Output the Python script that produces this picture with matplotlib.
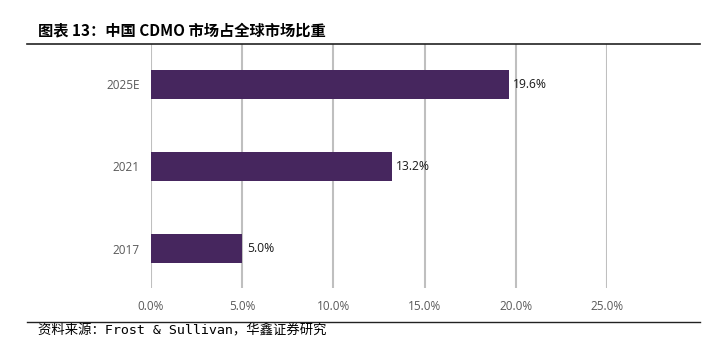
import matplotlib
matplotlib.use('Agg')
import matplotlib.pyplot as plt
from matplotlib.lines import Line2D

categories = ['2017', '2021', '2025E']
share = [5.0, 13.2, 19.6]
x_ticks = [0, 5, 10, 15, 20, 25]

title = '图表 13：中国 CDMO 市场占全球市场比重'
source = '资料来源：Frost & Sullivan，华鑫证券研究'

bar_color = '#46265e'
grid_color = '#bfbfbf'

fig = plt.figure(figsize=(7.05, 3.42), dpi=100)
ax = fig.add_axes([151 / 705, 1 - 288 / 342, (607 - 151) / 705, (288 - 44) / 342])

ax.barh(range(len(categories)), share, height=0.355, color=bar_color, zorder=3)
for i, v in enumerate(share):
    ax.text(v + 0.25, i, f'{v:.1f}%', va='center', ha='left', fontsize=8.7,
            family='Open Sans', color='#1a1a1a')

ax.set_xlim(0, 25)
ax.set_ylim(-0.48, 2.49)
ax.set_xticks(x_ticks)
ax.set_xticklabels([f'{t:.1f}%' for t in x_ticks], family='Open Sans', fontsize=8.5, color='#595959')
ax.set_yticks(range(len(categories)))
ax.set_yticklabels(categories, family='Open Sans', fontsize=8.5, color='#595959')
ax.tick_params(axis='both', length=0)
ax.tick_params(axis='x', pad=9)
ax.tick_params(axis='y', pad=8)
ax.grid(axis='x', color=grid_color, linewidth=1.5, zorder=0)
for s in ax.spines.values():
    s.set_visible(False)

# header / footer rules
fig.add_artist(Line2D([27 / 705, 700 / 705], [1 - 44 / 342] * 2, color='#222222', linewidth=1.2))
fig.add_artist(Line2D([27 / 705, 700 / 705], [1 - 322 / 342] * 2, color='#222222', linewidth=1.0))

fig.text(38 / 705, 1 - 30 / 342, title, fontsize=11, fontweight='bold',
         family=['Noto Sans CJK SC', 'DejaVu Sans'], va='center', ha='left')
fig.text(38 / 705, 1 - 331 / 342, source, fontsize=9.6,
         family=['DejaVu Sans Mono', 'Noto Sans CJK SC'], va='center', ha='left')

fig.savefig('out.png', dpi=100)
